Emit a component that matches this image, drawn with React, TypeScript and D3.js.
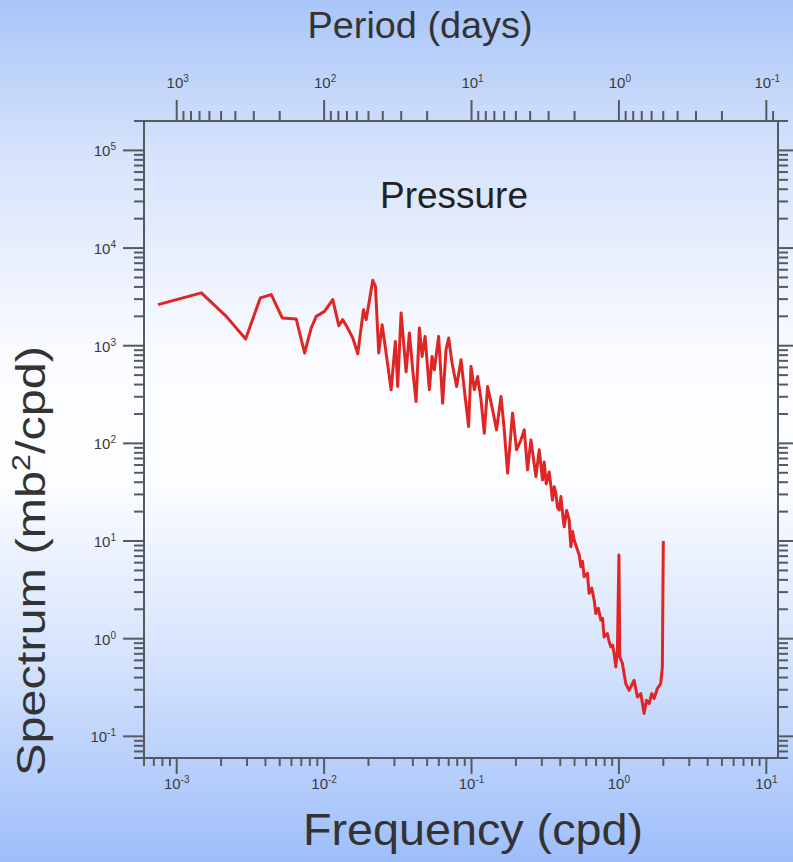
import React from 'react';
import * as d3 from 'd3';

// Frequency (cpd) of each spectral estimate
const frequency = [
  0.000747, 0.00147, 0.00217, 0.002935, 0.00369, 0.00438, 0.0052, 0.00647, 0.00737, 0.00818,
  0.00884, 0.01006, 0.01145, 0.01258, 0.01339, 0.01425, 0.01565, 0.01692, 0.01849, 0.01929,
  0.02138, 0.0223, 0.02348, 0.02475, 0.02634, 0.02848, 0.03046, 0.03157, 0.03329, 0.03599,
  0.0379, 0.0399, 0.04207, 0.04429, 0.0462, 0.04842, 0.05176, 0.05399, 0.05598, 0.05984,
  0.0637, 0.06717, 0.06997, 0.07377, 0.07925, 0.08489, 0.08939, 0.09559, 0.09922, 0.1045,
  0.11, 0.116, 0.1221, 0.1285, 0.139, 0.1479, 0.1585, 0.1668, 0.1757, 0.1899,
  0.2021, 0.2165, 0.2279, 0.2399, 0.253, 0.2735, 0.2879, 0.3031, 0.3112, 0.3212,
  0.3366, 0.3543, 0.364, 0.3736, 0.383, 0.3935, 0.4041, 0.415, 0.4253, 0.442,
  0.4599, 0.466, 0.4722, 0.485, 0.497, 0.5235, 0.538, 0.5521, 0.566, 0.5811,
  0.6117, 0.62, 0.6281, 0.654, 0.6792, 0.6973, 0.725, 0.7541, 0.774, 0.7934,
  0.8358, 0.858, 0.8814, 0.905, 0.9279, 0.9528, 0.9768, 1.0, 1.014, 1.056,
  1.113, 1.172, 1.268, 1.335, 1.407, 1.482, 1.536, 1.602, 1.671, 1.732,
  1.823, 1.922, 1.971, 2.0,
];

// Pressure spectrum (mb^2/cpd)
const spectrum = [
  2634, 3472, 1998, 1171, 3085, 3336, 1924, 1878, 842, 1519,
  1998, 2247, 2964, 1604, 1848, 1577, 1199, 828, 2340, 1848,
  4673, 4057, 842, 1642, 842, 354, 1107, 382, 2164, 541,
  1350, 567, 268, 1519, 777, 1246, 354, 777, 567, 1246,
  258, 910, 1199, 665, 382, 719, 354, 149, 613, 354,
  484, 279, 127, 382, 221, 137.5, 302, 137.5, 49.5, 204,
  85.8, 108.6, 137.5, 53.5, 108.6, 45.7, 85.8, 42.2, 64.6, 38.4,
  51.0, 26.3, 36.0, 30.8, 22.0, 20.8, 28.5, 19.0, 14.0, 20.5,
  16.4, 11.5, 8.74, 12.5, 10.24, 8.09, 7.2, 5.45, 6.2, 4.30,
  4.66, 3.6, 2.91, 3.3, 2.48, 1.81, 2.05, 1.55, 1.62, 1.04,
  1.13, 0.93, 0.824, 0.86, 0.705, 0.514, 0.762, 7.18, 0.651, 0.557,
  0.347, 0.296, 0.375, 0.253, 0.274, 0.171, 0.234, 0.216, 0.274, 0.244,
  0.309, 0.347, 0.514, 10.0,
];

const freqDomain = [0.0006, 12];
const spectrumDomain = [0.06, 2e5];

const W = 793;
const H = 862;
const M = { left: 144, right: 778, top: 121, bottom: 758 };

const isMajor = (t: number) => Math.abs(Math.log10(t) - Math.round(Math.log10(t))) < 1e-6;
const expOf = (t: number) => String(Math.round(Math.log10(t)));

const axisColor = '#555a60';
const labelColor = '#3a3a3a';
const font = '"Liberation Sans", Arial, Helvetica, sans-serif';

function PowLabel({ x, y, exp, anchor }: { x: number; y: number; exp: string; anchor: string }) {
  return (
    <text x={x} y={y} textAnchor={anchor} fontFamily={font} fontSize={15} fill={labelColor}>
      10
      <tspan fontSize={10} dy={-6}>{exp}</tspan>
    </text>
  );
}

export default function App() {
  const x = d3.scaleLog().domain(freqDomain).range([M.left, M.right]);
  const period = d3
    .scaleLog()
    .domain([1 / freqDomain[0], 1 / freqDomain[1]])
    .range([M.left, M.right]);
  const y = d3.scaleLog().domain(spectrumDomain).range([M.bottom, M.top]);

  const data = frequency.map((f, i) => ({ f, s: spectrum[i] }));
  const line = d3
    .line<{ f: number; s: number }>()
    .x((d) => x(d.f))
    .y((d) => y(d.s));

  const xTicks = x.ticks();
  const pTicks = period.ticks();
  const yTicks = y.ticks();

  return (
    <svg
      width={W}
      height={H}
      style={{ position: 'absolute', left: 0, top: 0 }}
      xmlns="http://www.w3.org/2000/svg"
    >
      <defs>
        <linearGradient id="bg" x1="0" y1="0" x2="0" y2="1">
          <stop offset="0%" stopColor="#a9c5f8" />
          <stop offset="18%" stopColor="#d6e3fb" />
          <stop offset="42%" stopColor="#fbfcff" />
          <stop offset="55%" stopColor="#fdfeff" />
          <stop offset="75%" stopColor="#d8e5fd" />
          <stop offset="100%" stopColor="#9ebefa" />
        </linearGradient>
      </defs>
      <rect x={0} y={0} width={W} height={H} fill="url(#bg)" />

      {/* data line */}
      <path
        d={line(data) || ''}
        fill="none"
        stroke="#e02525"
        strokeWidth={3}
        strokeLinejoin="round"
      />

      {/* frame */}
      <rect
        x={M.left}
        y={M.top}
        width={M.right - M.left}
        height={M.bottom - M.top}
        fill="none"
        stroke={axisColor}
        strokeWidth={2}
      />

      {/* bottom ticks (frequency) */}
      {xTicks.map((t, i) => {
        const px = x(t);
        const major = isMajor(t);
        return (
          <g key={'xb' + i}>
            <line x1={px} x2={px} y1={M.bottom} y2={M.bottom + (major ? 16 : 8)} stroke={axisColor} strokeWidth={2} />
            {major && <PowLabel x={px} y={789} exp={expOf(t)} anchor="middle" />}
          </g>
        );
      })}

      {/* top ticks (period) */}
      {pTicks.map((t, i) => {
        const px = period(t);
        const major = isMajor(t);
        return (
          <g key={'pt' + i}>
            <line x1={px} x2={px} y1={M.top} y2={M.top - (major ? 21 : 10)} stroke={axisColor} strokeWidth={2} />
            {major && <PowLabel x={px + 1} y={88} exp={expOf(t)} anchor="middle" />}
          </g>
        );
      })}

      {/* left and right ticks (spectrum) */}
      {yTicks.map((t, i) => {
        const py = y(t);
        const major = isMajor(t);
        return (
          <g key={'yl' + i}>
            <line x1={M.left} x2={M.left - (major ? 21 : 10)} y1={py} y2={py} stroke={axisColor} strokeWidth={2} />
            <line x1={M.right} x2={M.right + (major ? 16 : 10)} y1={py} y2={py} stroke={axisColor} strokeWidth={2} />
            {major && <PowLabel x={116} y={py + 6} exp={expOf(t)} anchor="end" />}
          </g>
        );
      })}

      {/* titles */}
      <text x={420} y={38} textAnchor="middle" fontFamily={font} fontSize={36} fill="#333"
        textLength={225} lengthAdjust="spacingAndGlyphs">
        Period (days)
      </text>
      <text x={473} y={845} textAnchor="middle" fontFamily={font} fontSize={45} fill="#333"
        textLength={340} lengthAdjust="spacingAndGlyphs">
        Frequency (cpd)
      </text>
      <text
        transform="translate(45,561) rotate(-90)"
        textAnchor="middle"
        fontFamily={font}
        fontSize={40}
        fill="#333"
        textLength={430}
        lengthAdjust="spacingAndGlyphs"
      >
        Spectrum (mb
        <tspan fontSize={25} dy={-15}>2</tspan>
        <tspan dy={15}>/cpd)</tspan>
      </text>
      <text x={454} y={208} textAnchor="middle" fontFamily={font} fontSize={36} fill="#222"
        textLength={148} lengthAdjust="spacingAndGlyphs">
        Pressure
      </text>
    </svg>
  );
}
